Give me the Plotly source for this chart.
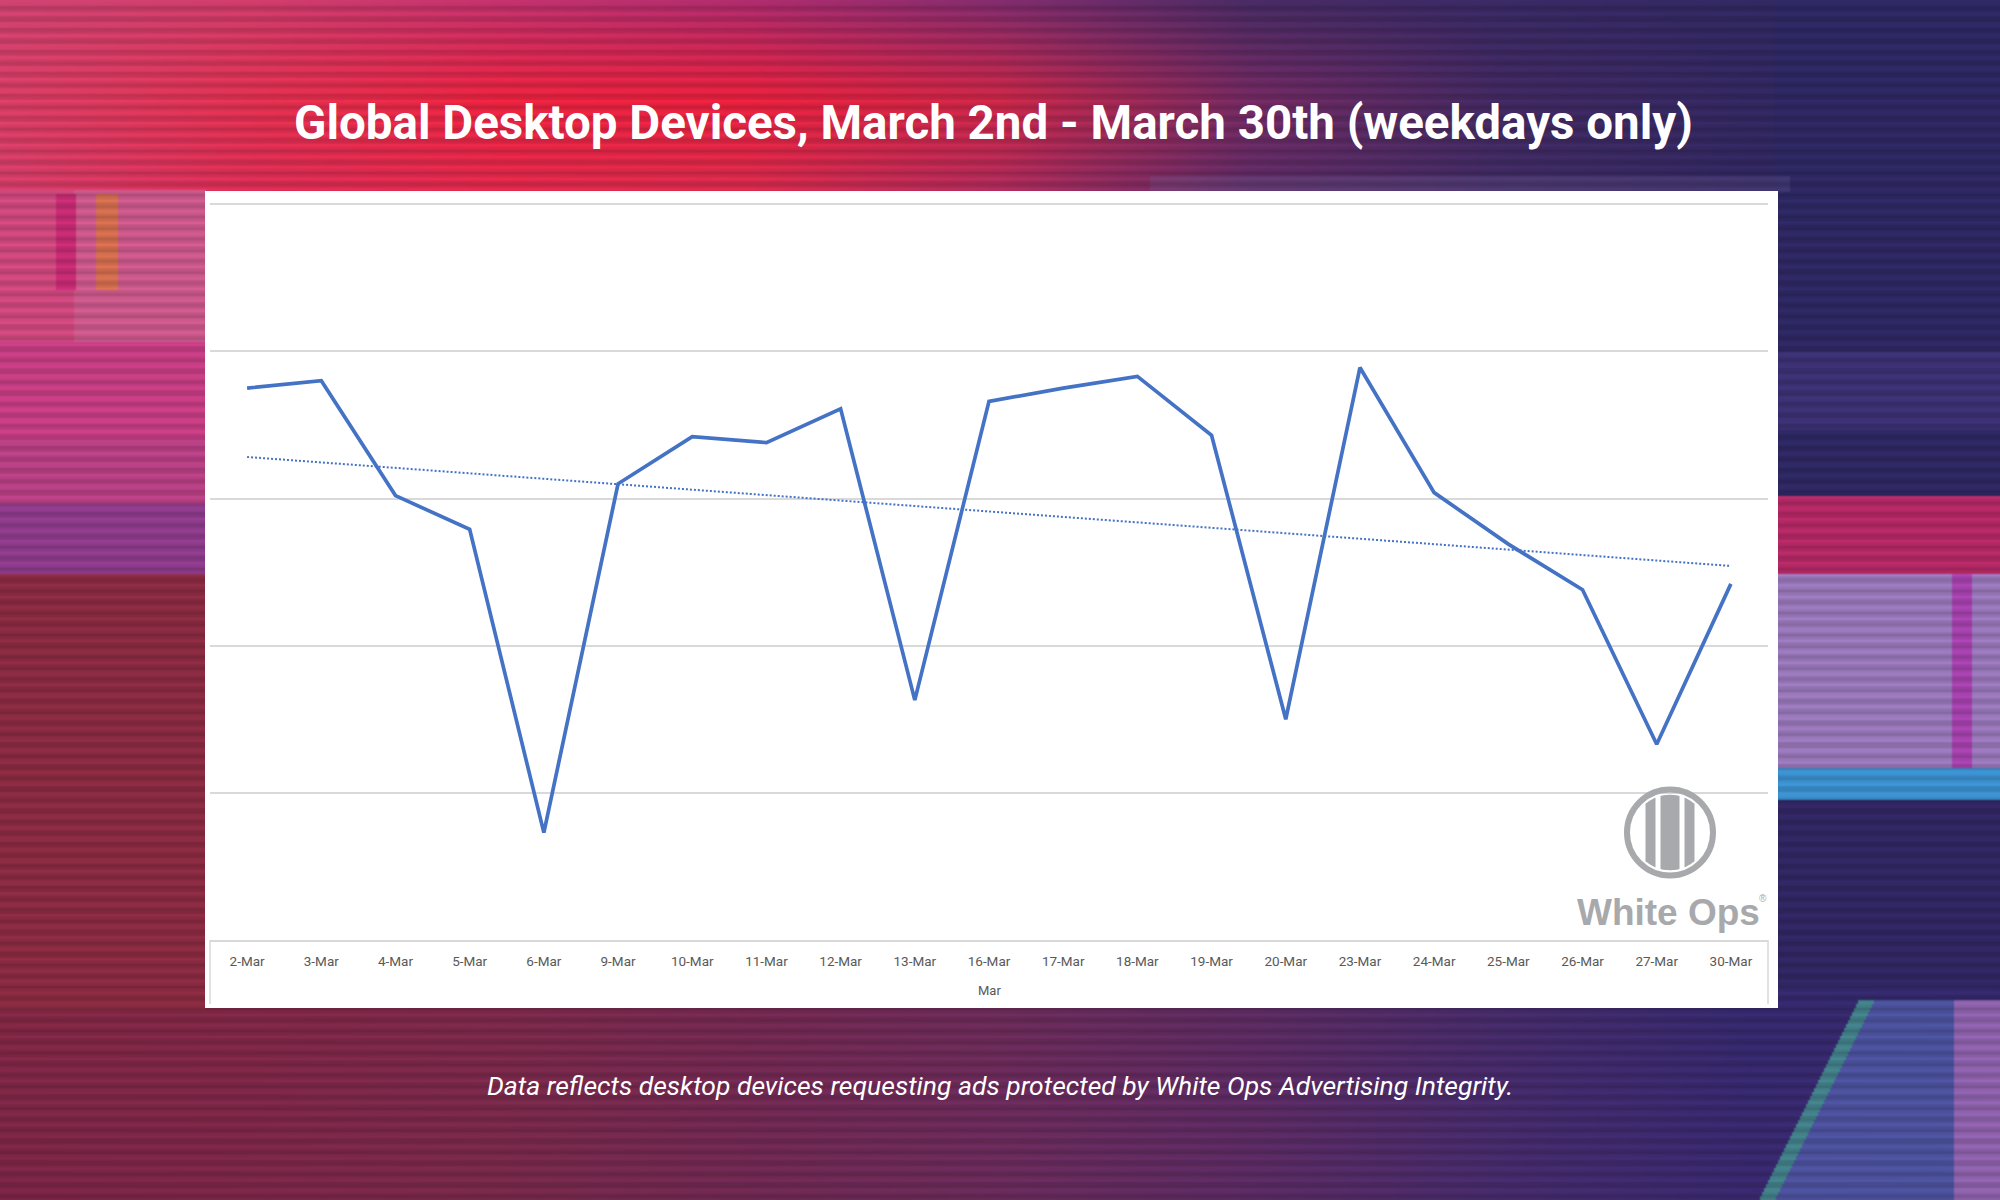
import base64
import struct
import zlib

import numpy as np
import plotly.graph_objects as go

# chart data (no y-axis labels in the original, values read in gridline units)
days = ["2-Mar", "3-Mar", "4-Mar", "5-Mar", "6-Mar", "9-Mar", "10-Mar", "11-Mar",
        "12-Mar", "13-Mar", "16-Mar", "17-Mar", "18-Mar", "19-Mar", "20-Mar",
        "23-Mar", "24-Mar", "25-Mar", "26-Mar", "27-Mar", "30-Mar"]
devices = [3.75, 3.80, 3.02, 2.79, 0.73, 3.10, 3.42, 3.38, 3.61, 1.63, 3.66,
           3.75, 3.83, 3.43, 1.50, 3.89, 3.04, 2.69, 2.38, 1.33, 2.42]

title_text = "Global Desktop Devices, March 2nd - March 30th (weekdays only)"
footer_text = "Data reflects desktop devices requesting ads protected by White Ops Advertising Integrity."
group_label = "Mar"

# linear trendline, like the Excel one
idx = np.arange(len(devices))
slope, icpt = np.polyfit(idx, devices, 1)
trend = slope * idx + icpt

W_FIG, H_FIG = 2000, 1200


def px(x):
    return x / W_FIG


def py(y):
    return 1 - y / H_FIG


def hex2rgb(h):
    return [int(h[i:i + 2], 16) for i in (0, 2, 4)]


# ---- glitchy background, built as a small png ----
IW, IH = 1000, 600
sc = W_FIG / IW
ys_pix = (np.arange(IH) + 0.5) * sc
xs_pix = (np.arange(IW) + 0.5) * sc

ctrl_x = [0, 250, 500, 750, 1000, 1250, 1500, 1750, 2000]
ctrl_y = [0, 100, 190, 400, 600, 800, 1000, 1100, 1200]
ctrl = [
    ["c4406c", "c43a66", "b83068", "a52a68", "7a2a68", "45295f", "372860", "30275e", "2e275e"],
    ["d03c62", "d8304e", "e2223e", "e0203c", "c42646", "70295f", "40285e", "32275e", "2e275e"],
    ["cc3c66", "d22c52", "d8284a", "cf2a4a", "a82a58", "5a2a62", "3e2a60", "30265e", "2e265e"],
    ["c03c80", "b8387a", "a03068", "8a2c64", "702a62", "502a62", "3a2860", "2e2660", "2e2660"],
    ["8c2a42", "8a2a48", "822a50", "782a56", "6a2a5c", "502a62", "3a2860", "302660", "302660"],
    ["862840", "842844", "7e2a4c", "762a54", "6a2a5a", "542a62", "3e2862", "302660", "302660"],
    ["7e2642", "7c2644", "782848", "70284e", "682a56", "5a2a5e", "442a66", "34286a", "322868"],
    ["7a2644", "7a2646", "762848", "6e2850", "682a58", "5a2a60", "442a68", "36286c", "3a2a6c"],
    ["782444", "782646", "742848", "6c2850", "662a58", "582a60", "442a68", "38286c", "3a2a6c"],
]
ctrl = np.array([[hex2rgb(c) for c in row] for row in ctrl], dtype=float)

rows = np.stack([np.stack([np.interp(xs_pix, ctrl_x, ctrl[r, :, c]) for c in range(3)], -1)
                 for r in range(len(ctrl_y))])
wy = np.stack([np.interp(ys_pix, ctrl_y, np.eye(len(ctrl_y))[r]) for r in range(len(ctrl_y))], -1)
img = np.einsum("hr,rwc->hwc", wy, rows)


def paint(x0, x1, y0, y1, color, alpha=1.0):
    c0, c1 = int(x0 / sc), int(np.ceil(x1 / sc))
    r0, r1 = int(y0 / sc), int(np.ceil(y1 / sc))
    img[r0:r1, c0:c1] = (1 - alpha) * img[r0:r1, c0:c1] + alpha * np.array(hex2rgb(color), float)


# left side glitches
paint(0, 205, 190, 342, "c8467a")
paint(75, 205, 190, 342, "c45a8a", 0.8)
paint(56, 75, 195, 290, "c02a70")
paint(97, 117, 195, 290, "cc6a4c")
paint(0, 205, 342, 504, "c03c80")
paint(0, 205, 440, 504, "a84080", 0.6)
paint(0, 205, 504, 574, "8a3a88")
paint(0, 205, 574, 1010, "862a40")
# right side glitches
paint(1775, 2000, 0, 497, "2d2760")
paint(1775, 2000, 352, 430, "3a3070")
paint(1775, 2000, 497, 574, "ae2862")
paint(1775, 2000, 574, 769, "9474b4")
paint(1952, 1972, 574, 769, "a040a8")
paint(1775, 2000, 769, 800, "3a8cc8")
paint(1775, 2000, 800, 985, "302660")
# top streak
paint(1150, 1790, 176, 192, "6a5a8c", 0.25)
# bottom-right glitch shape
for r in range(int(1000 / sc), IH):
    yy = ys_pix[r]
    left = 1860 - (yy - 1000) * 0.5
    c = int(left / sc)
    img[r, c:] = 0.35 * img[r, c:] + 0.65 * np.array(hex2rgb("5464b0"), float)
    img[r, c:c + 8] = 0.4 * img[r, c:c + 8] + 0.6 * np.array(hex2rgb("3a9a78"), float)
    c2 = int(1955 / sc)
    img[r, c2:] = 0.4 * img[r, c2:] + 0.6 * np.array(hex2rgb("b468b0"), float)

# horizontal scan lines
stripe = 1 + 0.09 * np.sin(2 * np.pi * ys_pix / 11.0) + 0.03 * np.sin(2 * np.pi * ys_pix / 3.7)
img = np.clip(img * stripe[:, None, None], 0, 255).astype(np.uint8)


def png_uri(a):
    h, w, _ = a.shape
    raw = np.hstack([np.zeros((h, 1), np.uint8), a.reshape(h, w * 3)]).tobytes()

    def chunk(t, d):
        return struct.pack(">I", len(d)) + t + d + struct.pack(">I", zlib.crc32(t + d) & 0xffffffff)

    data = (b"\x89PNG\r\n\x1a\n" + chunk(b"IHDR", struct.pack(">IIBBBBB", w, h, 8, 2, 0, 0, 0))
            + chunk(b"IDAT", zlib.compress(raw, 9)) + chunk(b"IEND", b""))
    return "data:image/png;base64," + base64.b64encode(data).decode()


blue = "#4472C4"
grid = "#d9d9d9"
logo_grey = "#a7a9ac"

fig = go.Figure()
fig.add_trace(go.Scatter(x=days, y=devices, mode="lines",
                         line=dict(color=blue, width=3.7), showlegend=False, hoverinfo="x+y"))
fig.add_trace(go.Scatter(x=days, y=trend, mode="lines",
                         line=dict(color=blue, width=2, dash="2px,2px"), showlegend=False,
                         hoverinfo="skip"))

shapes = [
    # white chart panel
    dict(type="rect", xref="paper", yref="paper", x0=px(205), x1=px(1778), y0=py(1008), y1=py(191),
         fillcolor="white", line_width=0, layer="below"),
    # category box edges
    dict(type="line", xref="paper", yref="paper", x0=px(210), x1=px(210), y0=py(940), y1=py(1004),
         line=dict(color=grid, width=1.5)),
    dict(type="line", xref="paper", yref="paper", x0=px(1768), x1=px(1768), y0=py(940), y1=py(1004),
         line=dict(color=grid, width=1.5)),
]

# White Ops logo mark
cx, cy = 1670, 832.5
shapes.append(dict(type="circle", xref="paper", yref="paper", x0=px(cx - 43), x1=px(cx + 43),
                   y0=py(cy + 43), y1=py(cy - 43), line=dict(color=logo_grey, width=6),
                   fillcolor="rgba(0,0,0,0)"))
R = 37.7
for a, b in [(-24.5, -14.5), (-9.5, 9.5), (14.5, 24.5)]:
    xs = np.linspace(a, b, 12)
    top = [(cx + x, cy - np.sqrt(R * R - x * x)) for x in xs]
    bot = [(cx + x, cy + np.sqrt(R * R - x * x)) for x in xs[::-1]]
    pts = top + bot
    path = "M " + " L ".join(f"{px(x):.5f},{py(y):.5f}" for x, y in pts) + " Z"
    shapes.append(dict(type="path", xref="paper", yref="paper", path=path,
                       fillcolor=logo_grey, line_width=0))

annotations = [
    dict(text=title_text, x=px(993), y=py(123), xref="paper", yref="paper", showarrow=False,
         xanchor="center", yanchor="middle",
         font=dict(family="Roboto", size=47.5, color="white", weight=700)),
    dict(text=footer_text, x=px(1000), y=py(1085), xref="paper", yref="paper", showarrow=False,
         xanchor="center", yanchor="middle",
         font=dict(family="Roboto", size=26.5, color="white", style="italic")),
    dict(text=group_label, x=px(989), y=py(990), xref="paper", yref="paper", showarrow=False,
         xanchor="center", yanchor="middle",
         font=dict(family="Roboto", size=13, color="#595959")),
    dict(text="White Ops", x=px(1668), y=py(912), xref="paper", yref="paper",
         showarrow=False, xanchor="center", yanchor="middle",
         font=dict(family="Liberation Sans, Arial, sans-serif", size=37, color=logo_grey, weight=700)),
    dict(text="®", x=px(1763), y=py(898), xref="paper", yref="paper",
         showarrow=False, xanchor="center", yanchor="middle",
         font=dict(family="Liberation Sans, Arial, sans-serif", size=10, color=logo_grey)),
]

fig.update_layout(
    width=W_FIG, height=H_FIG, autosize=False,
    margin=dict(l=0, r=0, t=0, b=0),
    paper_bgcolor="#5a2a5e", plot_bgcolor="rgba(0,0,0,0)",
    shapes=shapes, annotations=annotations,
    images=[dict(source=png_uri(img), xref="paper", yref="paper", x=0, y=1, sizex=1, sizey=1,
                 xanchor="left", yanchor="top", sizing="stretch", layer="below")],
    xaxis=dict(domain=[px(210), px(1768)], range=[-0.5, 20.5], type="category",
               showgrid=False, zeroline=False, showline=True, linecolor=grid, linewidth=1.5,
               ticks="", ticklabelstandoff=8,
               tickfont=dict(family="Roboto", size=13.5, color="#595959")),
    yaxis=dict(domain=[py(940), py(200.5)], range=[0, 5.025], dtick=1, showgrid=True,
               gridcolor=grid, gridwidth=1.5, zeroline=False, showticklabels=False, ticks=""),
)

fig.write_html("out.html", config={"displayModeBar": False},
               post_script="document.body.style.margin='0';")
